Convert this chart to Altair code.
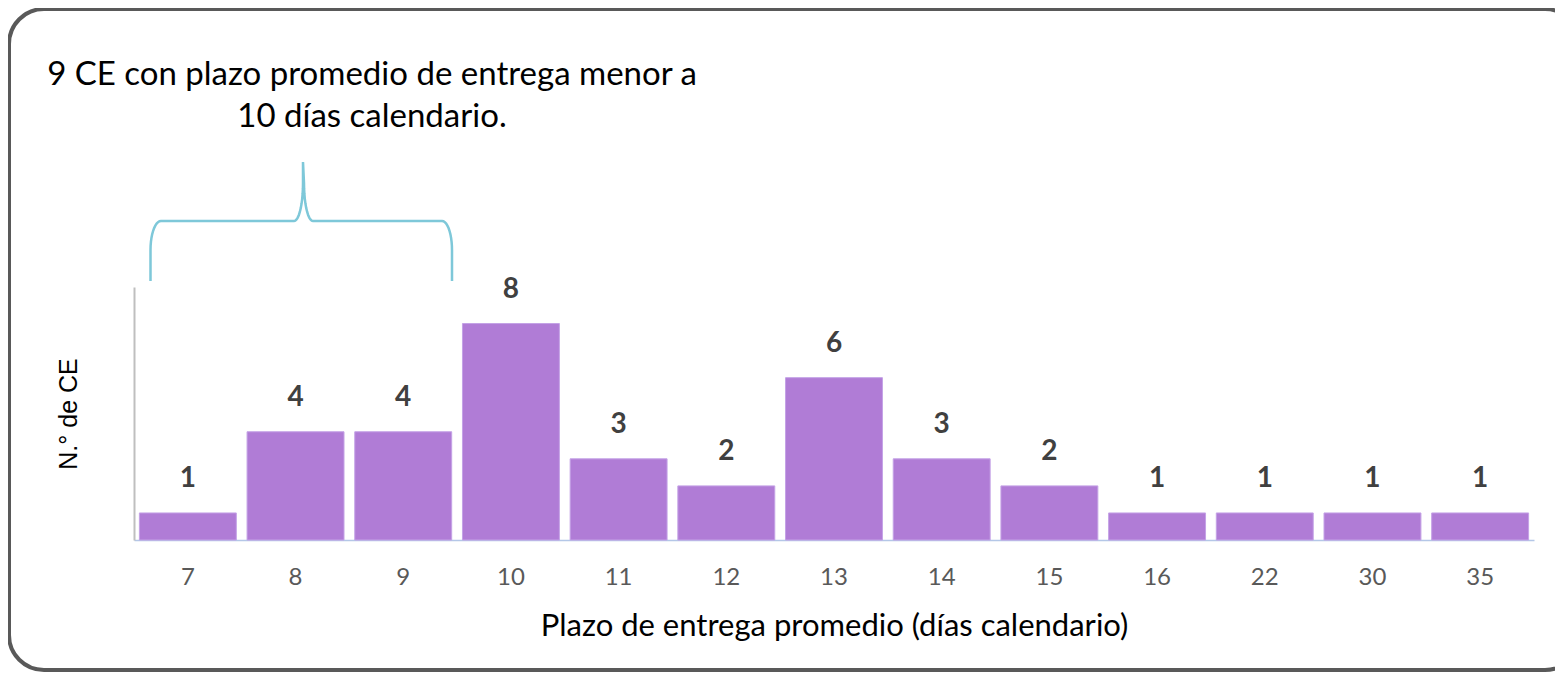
import altair as alt
import pandas as pd
import numpy as np

# ---- data ----
plazos = ["7", "8", "9", "10", "11", "12", "13", "14", "15", "16", "22", "30", "35"]
num_ce = [1, 4, 4, 8, 3, 2, 6, 3, 2, 1, 1, 1, 1]

nota = "9 CE con plazo promedio de entrega menor a\n10 días calendario."
x_title = "Plazo de entrega promedio (días calendario)"
y_title = "N.° de CE"

df = pd.DataFrame({"plazo": plazos, "n": num_ce})

W, H = 1400, 253
PAD = dict(left=126, top=279, right=21, bottom=133)
OX, OY = 134, 287  # plot origin on page (for decorations)

# ---- brace decoration geometry (pixels, relative to plot area) ----
t = np.linspace(0, np.pi / 2, 12)
pts = []
pts += [(150.5, 281.0)]
pts += list(zip(161 - 10.5 * np.cos(t), 250 - 29 * np.sin(t)))
pts += list(zip(294 + 9 * np.sin(t), 183 + 38 * np.cos(t)))
pts += [(303.0, 162.0)]
pts += list(zip(313 - 9 * np.sin(t[::-1]), 183 + 38 * np.cos(t[::-1])))
pts += list(zip(442 + 10 * np.sin(t), 250 - 29 * np.cos(t)))
pts += [(452.0, 281.0)]
brace_df = pd.DataFrame({
    "i": range(len(pts)),
    "bx": [p[0] - OX for p in pts],
    "by": [p[1] - OY for p in pts],
})

x_enc = alt.X(
    "plazo:N", sort=plazos, title=x_title,
    scale=alt.Scale(paddingInner=0.1, paddingOuter=0.05),
    axis=alt.Axis(labelAngle=0, labelFont="Lato", labelFontSize=24, labelColor="#595959",
                  labelPadding=25, ticks=False, domainColor="#B4C7E7", domainWidth=1.5,
                  titleFont="Lato", titleFontSize=31, titleColor="#000000",
                  titleFontWeight="normal", titleY=86, titleBaseline="middle"),
)
y_enc = alt.Y(
    "n:Q", title=y_title, scale=alt.Scale(domain=[0, 9.35], nice=False),
    axis=alt.Axis(labels=False, ticks=False, grid=False, domainColor="#BFBFBF", domainWidth=2,
                  titleFont="Liberation Sans", titleFontSize=25, titleColor="#000000",
                  titleFontWeight="normal", titleX=-66, titleY=126.5, titleAngle=270,
                  titleBaseline="middle", titleAlign="center"),
)

base = alt.Chart(df)
bars = base.mark_bar(color="#B07CD6", stroke="#C4A2E6", strokeWidth=1).encode(x=x_enc, y=y_enc)
labels = base.mark_text(font="Lato", fontSize=28, fontWeight="bold", color="#404040",
                        baseline="alphabetic", dy=-26).encode(
    x=alt.X("plazo:N", sort=plazos), y=alt.Y("n:Q"), text="n:Q")
main = alt.layer(bars, labels)

brace = alt.Chart(brace_df).mark_line(color="#7EC8D9", strokeWidth=2.5).encode(
    x=alt.X("bx:Q", scale=None, axis=None),
    y=alt.Y("by:Q", scale=None, axis=None),
    order="i:Q",
)

one = pd.DataFrame({"k": [0]})
frame = alt.Chart(one).mark_rect(fillOpacity=0, stroke="#595959", strokeWidth=4,
                                 cornerRadius=35).encode(
    x=alt.value(9 - OX), x2=alt.value(1580 - OX), y=alt.value(9 - OY), y2=alt.value(670 - OY))

note = alt.Chart(one).mark_text(font="Lato", fontSize=33, color="#000000", lineBreak="\n",
                                lineHeight=42, align="center", baseline="middle").encode(
    x=alt.value(372 - OX), y=alt.value(75 - OY), text=alt.value(nota))

chart = alt.layer(frame, main, brace, note).resolve_scale(
    x="independent", y="independent").properties(
    width=W, height=H, padding=PAD, autosize=alt.AutoSizeParams(type="none"),
    background="white").configure_view(stroke=None)

chart.save("out.html", embed_options={"renderer": "svg", "actions": False})
